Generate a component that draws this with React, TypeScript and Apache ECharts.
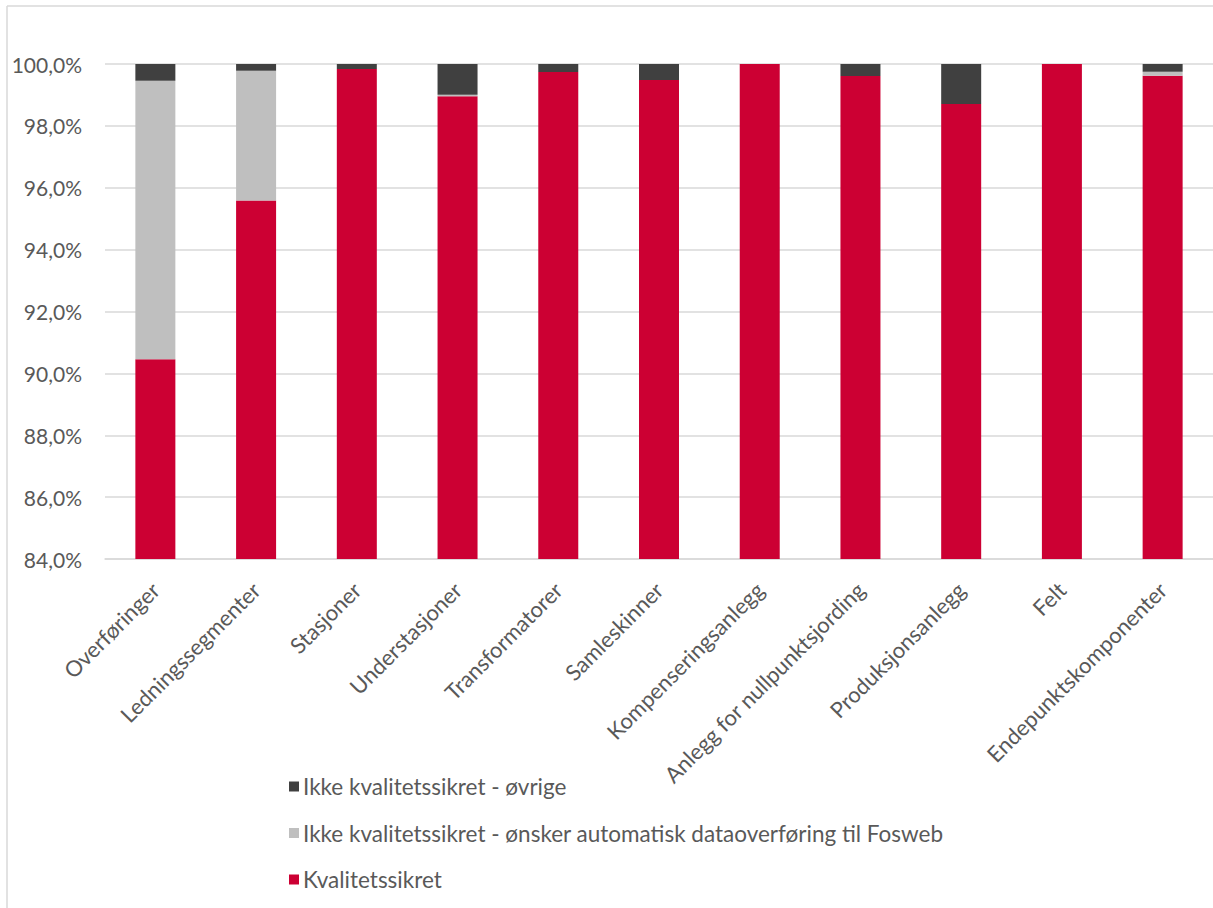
import React, { useEffect, useRef } from "react";
import * as echarts from "echarts";

const categories = [
  "Overføringer",
  "Ledningssegmenter",
  "Stasjoner",
  "Understasjoner",
  "Transformatorer",
  "Samleskinner",
  "Kompenseringsanlegg",
  "Anlegg for nullpunktsjording",
  "Produksjonsanlegg",
  "Felt",
  "Endepunktskomponenter",
];

const kvalitetssikret = [90.46, 95.59, 99.84, 98.96, 99.74, 99.48, 100, 99.61, 98.71, 100, 99.62];
const onskerAutomatisk = [9.0, 4.19, 0, 0.05, 0, 0, 0, 0, 0, 0, 0.13];
const ovrige = [0.54, 0.22, 0.16, 0.99, 0.26, 0.52, 0, 0.39, 1.29, 0, 0.25];

const names = [
  "Kvalitetssikret",
  "Ikke kvalitetssikret - ønsker automatisk dataoverføring til Fosweb",
  "Ikke kvalitetssikret - øvrige",
];

const FONT = "Lato, 'Open Sans', sans-serif";
const TXT = "#595959";

export default function App() {
  const ref = useRef<HTMLDivElement>(null);
  useEffect(() => {
    if (!ref.current) return;
    const chart = echarts.init(ref.current, null, { renderer: "svg" });
    chart.setOption({
      animation: false,
      textStyle: { fontFamily: FONT },
      grid: { left: 105, right: -3, top: 64, bottom: 349 },
      legend: {
        orient: "vertical",
        left: 284,
        top: 770,
        itemWidth: 10,
        itemHeight: 10,
        itemGap: 23.5,
        icon: "rect",
        data: [names[2], names[1], names[0]],
        textStyle: { fontSize: 22.5, color: TXT, fontFamily: FONT, padding: [0, 0, 0, -1] },
      },
      xAxis: {
        type: "category",
        data: categories,
        axisLine: { show: true, lineStyle: { color: "#d9d9d9", width: 1.5 } },
        axisTick: { show: false },
        axisLabel: { rotate: 45, fontSize: 22, color: TXT, margin: 27, interval: 0 },
      },
      yAxis: {
        type: "value",
        min: 84,
        max: 100,
        interval: 2,
        axisLine: { show: false },
        axisTick: { show: false },
        splitLine: { lineStyle: { color: "#d9d9d9", width: 1.5 } },
        axisLabel: {
          fontSize: 21,
          color: TXT,
          margin: 23,
          formatter: (v: number) => v.toFixed(1).replace(".", ",") + "%",
        },
      },
      series: [
        { name: names[0], type: "bar", stack: "a", barWidth: 40, data: kvalitetssikret, itemStyle: { color: "#CC0033" } },
        { name: names[1], type: "bar", stack: "a", barWidth: 40, data: onskerAutomatisk, itemStyle: { color: "#BFBFBF" } },
        { name: names[2], type: "bar", stack: "a", barWidth: 40, data: ovrige, itemStyle: { color: "#404040" } },
      ],
      graphic: [
        { type: "line", shape: { x1: 7, y1: 6, x2: 1213, y2: 6 }, style: { stroke: "#d9d9d9", lineWidth: 1.5 } },
        { type: "line", shape: { x1: 7, y1: 6, x2: 7, y2: 908 }, style: { stroke: "#d9d9d9", lineWidth: 1.5 } },
      ],
    });
    return () => chart.dispose();
  }, []);
  return <div ref={ref} style={{ width: 1213, height: 908, position: "absolute", left: 0, top: 0 }} />;
}
